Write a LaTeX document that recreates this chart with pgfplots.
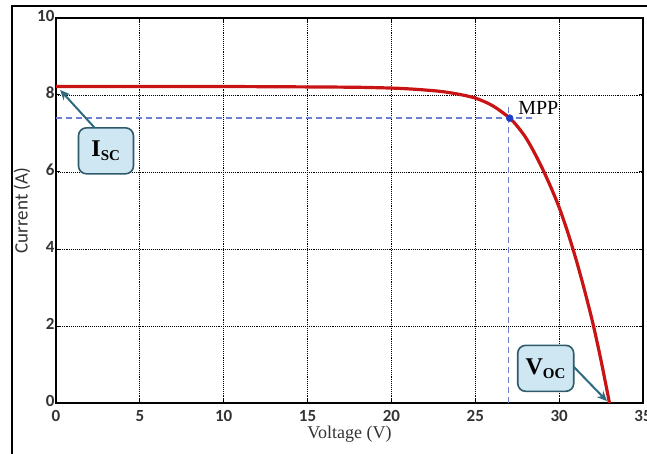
\documentclass[border=0pt]{standalone}
\usepackage{fontspec}
\setmainfont{Liberation Serif}
\newfontfamily\calfont{Carlito}
\usepackage{pgfplots}
\pgfplotsset{compat=1.18}
\usetikzlibrary{arrows.meta}

\definecolor{ivred}{HTML}{C81414}
\definecolor{mppblue}{HTML}{1E3CC8}
\definecolor{dashblue}{HTML}{6E80D4}
\definecolor{boxfill}{HTML}{CFE6F3}
\definecolor{boxline}{HTML}{2E5A6A}
\definecolor{arrowc}{HTML}{2D6A7F}

\begin{document}
\begin{tikzpicture}[x=1pt,y=1pt]
\begin{axis}[
    at={(56pt,50pt)}, anchor=south west,
    scale only axis,
    width=587pt, height=385pt,
    xmin=0, xmax=35, ymin=0, ymax=10,
    xtick={0,5,...,35}, ytick={0,2,...,10},
    grid=major,
    major grid style={black, line width=0.9pt, densely dotted},
    axis line style={black, line width=1.3pt},
    tick style={black, line width=1pt},
    major tick length=4pt,
    /pgf/number format/assume math mode=true,
    tick label style={font=\calfont\bfseries\fontsize{17}{17}\selectfont, color=black!80},
    xticklabel style={yshift=-4pt},
    yticklabel style={xshift=2pt, yshift=2pt},
    xlabel={Voltage (V)},
    ylabel={Current (A)},
    xlabel style={font=\fontsize{18}{18}\selectfont, color=black!80, yshift=3pt},
    ylabel style={font=\calfont\fontsize{19}{19}\selectfont, color=black!80, yshift=0pt},
    clip=false,
]
% MPP guide lines
\addplot[dashblue, line width=1.3pt, dash pattern=on 6pt off 4pt] coordinates {(0,7.4) (28.4,7.4)};
\addplot[dashblue, line width=1.3pt, dash pattern=on 6pt off 4pt] coordinates {(27,0) (27,7.75)};
% I-V curve
\addplot[ivred, line width=3.2pt, smooth] coordinates {
    (0,8.22) (5,8.22) (10,8.22) (15,8.21) (18,8.20) (20,8.18)
    (21,8.16) (22,8.13) (23,8.09) (24,8.02) (25,7.92) (26,7.73)
    (27,7.42) (27.5,7.19) (28,6.90) (28.5,6.52) (29,6.09) (29.5,5.61)
    (30,5.08) (30.5,4.45) (31,3.74) (31.5,2.95) (32,2.09) (32.5,1.10) (33,0)
};
% MPP point
\addplot[only marks, mark=*, mark size=3.5pt, mppblue] coordinates {(27.05,7.4)};
\node[anchor=south west, font=\fontsize{20}{20}\selectfont, inner sep=0pt] at (axis cs:27.55,7.5) {MPP};
% callouts
\node[draw=boxline, fill=boxfill, line width=1.6pt, rounded corners=8pt,
      minimum width=55pt, minimum height=46pt, font=\bfseries\fontsize{24}{24}\selectfont]
      (isc) at (axis cs:2.98,6.55) {I\textsubscript{\fontsize{15}{15}\selectfont SC}};
\draw[arrowc, line width=2pt, -{Stealth[length=10pt,width=9pt]}] (axis cs:2.3,7.15) -- (axis cs:0.25,8.13);
\node[draw=boxline, fill=boxfill, line width=1.6pt, rounded corners=8pt,
      minimum width=56pt, minimum height=46pt, font=\bfseries\fontsize{24}{24}\selectfont]
      (voc) at (axis cs:29.2,0.9) {V\textsubscript{\fontsize{15}{15}\selectfont OC}};
\draw[arrowc, line width=2pt, -{Stealth[length=10pt,width=9pt]}] (axis cs:30.85,0.95) -- (axis cs:32.85,0.05);
\end{axis}
\draw[line width=1.6pt] (12,-10) rectangle (670,447);
\pgfresetboundingbox
\path[use as bounding box] (0,0) rectangle (647,453);
\end{tikzpicture}
\end{document}
